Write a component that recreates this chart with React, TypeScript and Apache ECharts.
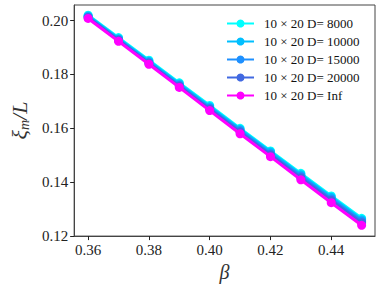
import React, { useEffect, useRef } from "react";
import * as echarts from "echarts";

const beta = [0.36, 0.37, 0.38, 0.39, 0.4, 0.41, 0.42, 0.43, 0.44, 0.45];
const d8000 = [0.2020, 0.1937, 0.1853, 0.1769, 0.1685, 0.1600, 0.1516, 0.1433, 0.1349, 0.1266];
const d10000 = [0.2017, 0.1933, 0.1849, 0.1765, 0.1680, 0.1596, 0.1512, 0.1428, 0.1344, 0.1261];
const d15000 = [0.2014, 0.1930, 0.1845, 0.1760, 0.1675, 0.1591, 0.1506, 0.1422, 0.1338, 0.1255];
const d20000 = [0.2012, 0.1927, 0.1842, 0.1757, 0.1672, 0.1587, 0.1502, 0.1417, 0.1333, 0.1250];
const dInf = [0.2008, 0.1923, 0.1838, 0.1752, 0.1666, 0.1580, 0.1495, 0.1409, 0.1324, 0.1240];

const seriesNames = ["10 × 20 D= 8000", "10 × 20 D= 10000", "10 × 20 D= 15000", "10 × 20 D= 20000", "10 × 20 D= Inf"];
const seriesData = [d8000, d10000, d15000, d20000, dInf];
const colors = ["#00FFFF", "#00BFFF", "#1E90FF", "#4169E1", "#FF00FF"];
const xTicks = [0.36, 0.38, 0.4, 0.42, 0.44];
const yTicks = [0.12, 0.14, 0.16, 0.18, 0.2];

const serif = "Liberation Serif";

export default function App() {
  const ref = useRef<HTMLDivElement>(null);
  useEffect(() => {
    const chart = echarts.init(ref.current!, null, { renderer: "svg" });
    chart.setOption({
      animation: false,
      backgroundColor: "#fff",
      grid: { left: 66, right: 7, top: 5, bottom: 50, show: true, borderColor: "#444", borderWidth: 1 },
      legend: {
        orient: "vertical",
        left: 221,
        top: 12,
        itemWidth: 27,
        itemHeight: 10,
        itemGap: 5,
        textStyle: { fontFamily: serif, fontSize: 13, color: "#111", lineHeight: 12, padding: [0, 0, 0, 5] },
        data: seriesNames,
      },
      xAxis: {
        type: "value",
        min: 0.3554,
        max: 0.4544,
        name: "β",
        nameLocation: "middle",
        nameGap: 24,
        nameTextStyle: { fontFamily: serif, fontStyle: "italic", fontSize: 20, color: "#333" },
        axisLine: { show: true, onZero: false, lineStyle: { color: "#444" } },
        axisTick: { show: true, length: 4, inside: false, lineStyle: { color: "#222" }, customValues: xTicks },
        axisLabel: {
          margin: 6,
          fontFamily: serif,
          fontSize: 15,
          color: "#222",
          customValues: xTicks,
          formatter: (v: number) => v.toFixed(2),
        },
        splitLine: { show: false },
      },
      yAxis: {
        type: "value",
        min: 0.12,
        max: 0.2058,
        name: "{a|ξ}{b|m}{a|/L}",
        nameLocation: "middle",
        nameRotate: 90,
        nameGap: 36,
        nameTextStyle: {
          rich: {
            a: { fontFamily: serif, fontStyle: "italic", fontSize: 22, color: "#333" },
            b: { fontFamily: serif, fontStyle: "italic", fontSize: 14, color: "#333", padding: [10, 0, 0, 0] },
          },
        },
        axisLine: { show: true, onZero: false, lineStyle: { color: "#444" } },
        axisTick: { show: true, length: 4, inside: false, lineStyle: { color: "#222" }, customValues: yTicks },
        axisLabel: {
          margin: 6,
          fontFamily: serif,
          fontSize: 15,
          color: "#222",
          customValues: yTicks,
          formatter: (v: number) => v.toFixed(2),
        },
        splitLine: { show: false },
      },
      series: seriesNames.map((name, i) => ({
        name,
        type: "line",
        data: beta.map((b, j) => [b, seriesData[i][j]]),
        symbol: "circle",
        symbolSize: 9,
        showSymbol: true,
        lineStyle: { width: 3, color: colors[i] },
        itemStyle: { color: colors[i] },
        z: 2 + i,
      })),
    });
    return () => chart.dispose();
  }, []);
  return <div ref={ref} style={{ width: 382, height: 287, position: "absolute", left: 0, top: 0 }} />;
}
